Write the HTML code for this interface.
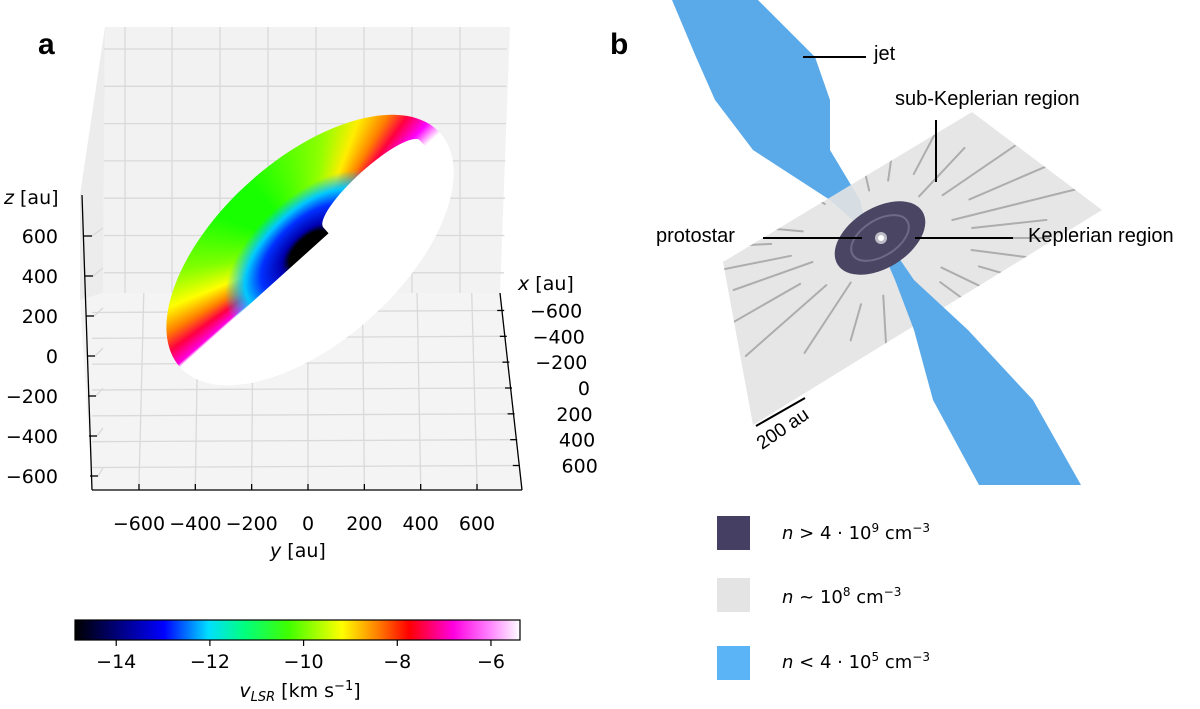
<!DOCTYPE html>
<html><head><meta charset="utf-8">
<style>
body{margin:0;background:#fff;font-family:"DejaVu Sans","Liberation Sans",sans-serif;}
#root{position:relative;width:1200px;height:709px;overflow:hidden;}
.t{position:absolute;font-size:19px;color:#000;white-space:nowrap;}
.lbl{position:absolute;font-size:20px;white-space:nowrap;font-family:"Liberation Sans",sans-serif;}
</style></head><body>
<div id="root">
<svg id="svgA" width="1200" height="709" style="position:absolute;left:0;top:0">
  <polygon points="105,27 510,27 500,293 103,293" fill="#f2f2f2"/>
  <polygon points="80,195 105,27 103,293 80,300" fill="#ececec"/>
  <polygon points="80,300 103,293 500,293 522,490 92,490" fill="#f4f4f4"/>
  <g id="grid" stroke="#d9d9d9" stroke-width="1.3"></g>
  <g id="axes" stroke="#000" stroke-width="1.3" fill="none">
    <line x1="82" y1="195" x2="92" y2="490"/>
    <line x1="92" y1="490" x2="522" y2="490"/>
    <line x1="500" y1="293" x2="522" y2="490"/>
  </g>
  <g id="ticks" stroke="#000" stroke-width="1.3"></g>
  <g id="tlabels" font-size="19" font-family="DejaVu Sans, sans-serif"></g>
</svg>

<div style="position:absolute;left:135px;top:75px;width:350px;height:350px;border-radius:50%;transform:rotate(-42deg) scaleY(0.52);transform-origin:175px 175px;
background:radial-gradient(circle at 50% 50%, #000 0 10%, #0000b0 14%, #0030ff 24%, #00c8ff 32%, rgba(0,255,120,0) 42%),conic-gradient(from 0deg, #18ff00 0deg, #90ff00 30deg, #ffee00 45deg, #ff8000 58deg, #ff0040 68deg, #ff00ff 80deg, #ffffff 90deg, #ffffff 270deg, #ff00e0 272deg, #ff0040 282deg, #ff8000 292deg, #ffff00 305deg, #80ff00 322deg, #18ff00 345deg, #18ff00 360deg);"></div>
<div style="position:absolute;left:135px;top:75px;width:350px;height:350px;transform:rotate(-42deg) scaleY(0.52);transform-origin:175px 175px;">
  <div style="position:absolute;left:0;top:175px;width:350px;height:175px;border-radius:0 0 175px 175px;background:#fff"></div>
  <div style="position:absolute;left:200px;top:130px;width:130px;height:60px;border-radius:50% 50% 0 0;background:#fff"></div>
</div>

<div class="t" style="left:38px;top:28px;font-size:30px;font-weight:bold;font-family:'Liberation Sans',sans-serif">a</div>
<div class="t" style="left:4px;top:187px"><i>z</i> [au]</div>
<div class="t" style="left:518px;top:273px"><i>x</i> [au]</div>
<div class="t" style="left:270px;top:540px"><i>y</i> [au]</div>

<svg width="1200" height="709" style="position:absolute;left:0;top:0">
  <defs><linearGradient id="cmap" x1="0" x2="1" y1="0" y2="0">
    <stop offset="0" stop-color="#000000"/><stop offset="0.1" stop-color="#000080"/>
    <stop offset="0.2" stop-color="#0000ff"/><stop offset="0.3" stop-color="#00dfff"/>
    <stop offset="0.38" stop-color="#00ff80"/><stop offset="0.48" stop-color="#40ff00"/>
    <stop offset="0.6" stop-color="#ffff00"/><stop offset="0.68" stop-color="#ff8000"/>
    <stop offset="0.75" stop-color="#ff0000"/><stop offset="0.85" stop-color="#ff00e0"/>
    <stop offset="0.93" stop-color="#ff80ff"/><stop offset="1" stop-color="#ffffff"/>
  </linearGradient></defs>
  <rect x="75" y="620" width="445" height="20" fill="url(#cmap)" stroke="#000" stroke-width="1.2"/>
  <g id="cbticks"></g>
  <text x="300" y="697" font-size="19" text-anchor="middle" font-family="DejaVu Sans, sans-serif"><tspan font-style="italic">v</tspan><tspan font-style="italic" font-size="13" dy="4">LSR</tspan><tspan dy="-4"> [km s</tspan><tspan font-size="13" dy="-7">−1</tspan><tspan dy="7">]</tspan></text>
</svg>

<svg width="1200" height="709" style="position:absolute;left:0;top:0">
  <defs><clipPath id="planeClip"><polygon points="723,262 972,112 1102,210 753,425"/></clipPath></defs>
  <polygon points="672,0 696,57 715,100 753,150 830,200 875,240 868,232 860,200 830,150 830,100 815,57 758,0" fill="#5aaaea"/>
  <polygon points="723,262 972,112 1102,210 753,425" fill="#e3e3e3" opacity="0.9"/>
  <g id="streams" stroke="#9a9a9a" stroke-width="2" stroke-linecap="round" opacity="0.75" clip-path="url(#planeClip)"></g>
  <polygon points="880,245 895,280 914,330 933,400 979,485 1081,485 1033,400 968,330 914,280 890,245" fill="#5aaaea"/>
  <ellipse cx="880" cy="238" rx="50" ry="30" transform="rotate(-32 880 238)" fill="#4a4563"/>
  <ellipse cx="880" cy="238" rx="32" ry="18" transform="rotate(-32 880 238)" fill="none" stroke="#6e6a85" stroke-width="2"/>
  <circle cx="881" cy="238" r="6" fill="#bdbdc8"/>
  <circle cx="881" cy="238" r="3" fill="#fff"/>
  <g stroke="#000" stroke-width="2">
    <line x1="803" y1="57" x2="866" y2="57"/>
    <line x1="936" y1="120" x2="936" y2="182"/>
    <line x1="763" y1="238" x2="862" y2="238"/>
    <line x1="915" y1="238" x2="1013" y2="238"/>
    <line x1="756" y1="426" x2="805" y2="398"/>
  </g>
  <text x="0" y="0" font-size="19" font-family="Liberation Sans, sans-serif" transform="translate(762,450) rotate(-34)">200 au</text>
</svg>
<div class="t" style="left:610px;top:28px;font-size:30px;font-weight:bold;font-family:'Liberation Sans',sans-serif">b</div>
<div class="lbl" style="left:874px;top:43px">jet</div>
<div class="lbl" style="left:895px;top:88px">sub-Keplerian region</div>
<div class="lbl" style="left:656px;top:225px">protostar</div>
<div class="lbl" style="left:1028px;top:225px">Keplerian region</div>

<div>
  <div style="position:absolute;left:717px;top:516px;width:33px;height:34px;background:#453f63"></div>
  <div style="position:absolute;left:717px;top:578px;width:33px;height:34px;background:#e4e4e4"></div>
  <div style="position:absolute;left:717px;top:646px;width:33px;height:34px;background:#5ab4f5"></div>
  <div class="t" style="left:782px;top:521px;font-size:18px"><i>n</i> &gt; 4 · 10<sup style="font-size:12px">9</sup> cm<sup style="font-size:12px">−3</sup></div>
  <div class="t" style="left:782px;top:585px;font-size:18px"><i>n</i> ~ 10<sup style="font-size:12px">8</sup> cm<sup style="font-size:12px">−3</sup></div>
  <div class="t" style="left:782px;top:650px;font-size:18px"><i>n</i> &lt; 4 · 10<sup style="font-size:12px">5</sup> cm<sup style="font-size:12px">−3</sup></div>
</div>
</div>
<script>
const zTicks=[600,400,200,0,-200,-400,-600];
const yTicks=[-600,-400,-200,0,200,400,600];
const xTicks=[-600,-400,-200,0,200,400,600];
const cbTicks=[-14,-12,-10,-8,-6];
const cbMin=-14.88, cbMax=-5.38;
const NS='http://www.w3.org/2000/svg';
function mk(tag,attrs,parent){const e=document.createElementNS(NS,tag);for(const k in attrs)e.setAttribute(k,attrs[k]);parent.appendChild(e);return e;}
const zY=v=>356-v*0.2; const zX=v=>87-v*0.005;
const yX=v=>308+v*0.2817;
const xY=v=>388+v*0.1292; const xX=v=>512+v*0.013;
const cbX=v=>75+(v-cbMin)/(cbMax-cbMin)*445;
const grid=document.getElementById('grid'),ticks=document.getElementById('ticks'),tl=document.getElementById('tlabels');
for(let i=0;i<12;i++){const y=49+i*37.3; if(y>293)break; mk('line',{x1:104,y1:y,x2:507-i*0.5,y2:y},grid);}
[125,172,220,268,316,364,412,460].forEach(x=>mk('line',{x1:x,y1:27,x2:x,y2:293},grid));
zTicks.forEach(v=>{const y=zY(v);mk('line',{x1:zX(v),y1:y,x2:zX(v)+8,y2:y},ticks);mk('line',{x1:zX(v)+8,y1:y,x2:103,y2:y-8},grid);
 const t=mk('text',{x:58,y:y+7,'text-anchor':'end'},tl);t.textContent=String(v).replace('-','−');
 
 });
yTicks.forEach(v=>{const x=yX(v);mk('line',{x1:x,y1:490,x2:x,y2:484},ticks);mk('line',{x1:x,y1:484,x2:x-(x-300)*0.03,y2:293},grid);
 const t=mk('text',{x:x,y:530,'text-anchor':'middle'},tl);t.textContent=String(v).replace('-','−');
 
 });
xTicks.forEach(v=>{const y=xY(v),x=xX(v);mk('line',{x1:x-7,y1:y,x2:x,y2:y},ticks);mk('line',{x1:x-7,y1:y,x2:92,y2:y+2},grid);
 const t=mk('text',{x:x+78,y:y+7,'text-anchor':'end'},tl);t.textContent=String(v).replace('-','−');
 
 });
const cb=document.getElementById('cbticks');
cbTicks.forEach(v=>{const x=cbX(v);mk('line',{x1:x,y1:640,x2:x,y2:646,stroke:'#000','stroke-width':1.2},cb);
 const t=mk('text',{x:x,y:668,'text-anchor':'middle','font-size':19,'font-family':'DejaVu Sans, sans-serif'},cb);t.textContent=String(v).replace('-','−');
 
 });
const st=document.getElementById('streams');
const angs=[0,12,25,38,50,62,75,88,100,112,125,137,150,162,175,188,200,212,225,237,250,262,275,288,300,312,325,338,350];
angs.forEach((a,i)=>{const r=a*Math.PI/180;const r1=60+(i%3)*12,r2=130+(i%4)*25;
 const sx=Math.cos(r)*1.3, sy=Math.sin(r)*0.8;
 mk('line',{x1:880+sx*r1,y1:238+sy*r1,x2:880+sx*r2,y2:238+sy*r2},st);});
</script>
</body></html>
